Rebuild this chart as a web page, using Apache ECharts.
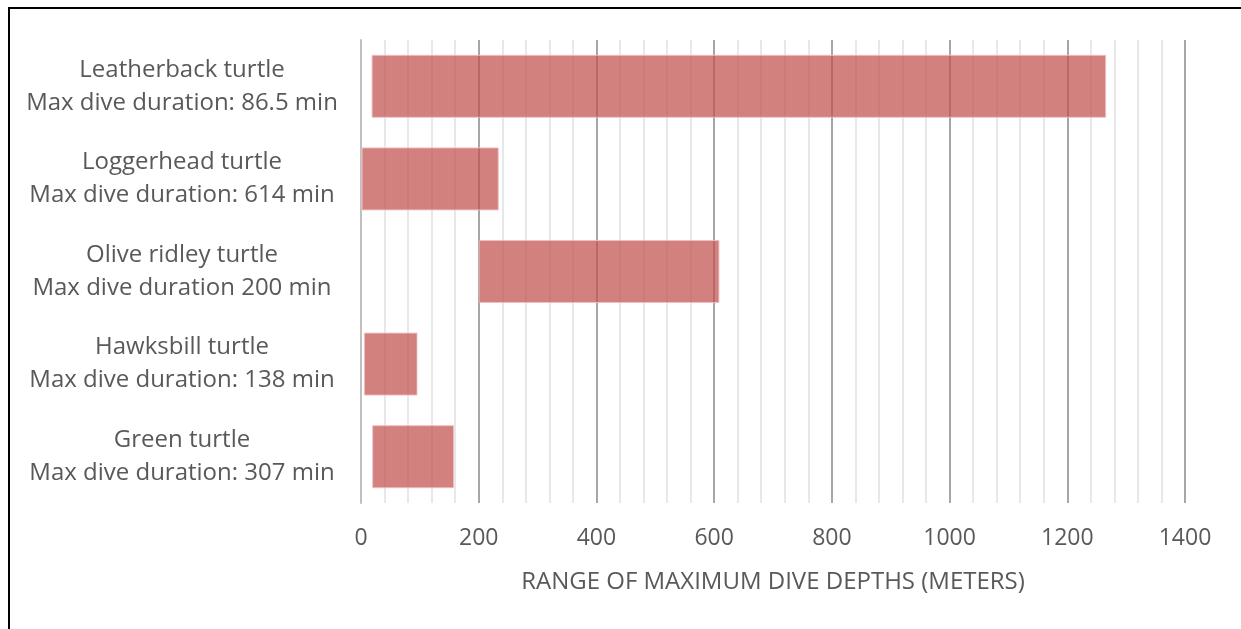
<!DOCTYPE html>
<html>
<head>
<meta charset="utf-8">
<style>
  html, body { margin: 0; padding: 0; background: #fff; }
  #chart { width: 1241px; height: 629px; }
</style>
<script src="https://cdn.jsdelivr.net/npm/echarts@6/dist/echarts.min.js"></script>
</head>
<body>
<div id="chart"></div>
<script>
// Turtle species with their longest recorded dive, top to bottom
const categories = [
  'Leatherback turtle\nMax dive duration: 86.5 min',
  'Loggerhead turtle\nMax dive duration: 614 min',
  'Olive ridley turtle\nMax dive duration 200 min',
  'Hawksbill turtle\nMax dive duration: 138 min',
  'Green turtle\nMax dive duration: 307 min'
];

// Range of maximum dive depths, in meters
const minDepth = [18, 1, 200, 5, 19];
const maxDepth = [1266, 234, 609, 96, 158];

// Depth axis ticks
const depthTicks = [0, 200, 400, 600, 800, 1000, 1200, 1400];

const textColor = '#595959';
const fontFamily = '"Open Sans", Lato, sans-serif';

const chart = echarts.init(document.getElementById('chart'), null, { renderer: 'canvas' });

chart.setOption({
  backgroundColor: '#ffffff',
  animation: false,
  textStyle: { fontFamily: fontFamily },
  graphic: [
    {
      type: 'rect',
      shape: { x: 9, y: 8, width: 1400, height: 800 },
      style: { fill: 'none', stroke: '#000000', lineWidth: 2 },
      silent: true,
      z: 100
    }
  ],
  grid: { left: 361, right: 56, top: 40, bottom: 126, containLabel: false },
  xAxis: {
    type: 'value',
    min: depthTicks[0],
    max: depthTicks[depthTicks.length - 1],
    interval: depthTicks[1] - depthTicks[0],
    name: 'RANGE OF MAXIMUM DIVE DEPTHS (METERS)',
    nameLocation: 'middle',
    nameGap: 67,
    nameTextStyle: { color: textColor, fontSize: 24, fontFamily: fontFamily },
    axisLine: { show: false },
    axisTick: { show: false },
    axisLabel: {
      color: textColor,
      fontSize: 23,
      margin: 24,
      fontFamily: fontFamily,
      formatter: (v) => String(v)
    },
    splitLine: {
      show: true,
      showMinLine: false,
      lineStyle: { color: '#a6a6a6', width: 2 }
    },
    minorTick: { show: false, splitNumber: 5 },
    minorSplitLine: {
      show: true,
      lineStyle: { color: '#e8e8e8', width: 2 }
    }
  },
  yAxis: {
    type: 'category',
    inverse: true,
    data: categories,
    axisLine: { show: true, lineStyle: { color: '#c0c0c0', width: 2 } },
    axisTick: { show: false },
    splitLine: { show: false },
    axisLabel: {
      color: textColor,
      fontSize: 24,
      lineHeight: 33,
      align: 'center',
      margin: 179,
      fontFamily: fontFamily
    }
  },
  series: [
    {
      // invisible offset up to the shallowest depth
      name: 'base',
      type: 'bar',
      stack: 'depth',
      silent: true,
      barCategoryGap: '32%',
      itemStyle: { color: 'rgba(0,0,0,0)' },
      data: minDepth
    },
    {
      name: 'Depth range',
      type: 'bar',
      stack: 'depth',
      barCategoryGap: '32%',
      itemStyle: {
        color: 'rgba(192,80,77,0.72)',
        borderColor: 'rgba(240,190,190,0.9)',
        borderWidth: 1
      },
      data: maxDepth.map((hi, i) => hi - minDepth[i])
    }
  ]
});
</script>
</body>
</html>
